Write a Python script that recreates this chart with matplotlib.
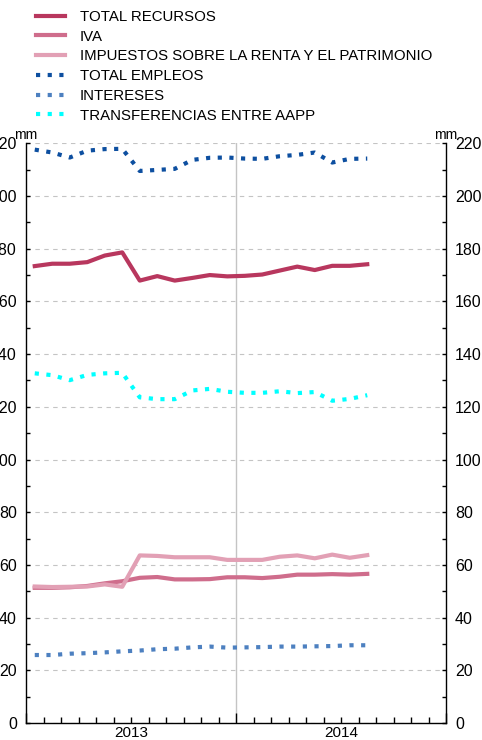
import matplotlib
matplotlib.use("Agg")
import matplotlib.pyplot as plt
import numpy as np
from matplotlib.ticker import MultipleLocator

plt.rcParams["font.family"] = ["Liberation Sans", "DejaVu Sans"]
plt.rcParams["font.size"] = 11

# monthly data, Jan 2013 .. Aug 2014 (mm = miles de millones)
years = ["2013", "2014"]
total_recursos = [173.4, 174.3, 174.3, 174.9, 177.4, 178.6, 167.9, 169.6, 167.9, 168.9,
                  170.0, 169.5, 169.7, 170.2, 171.7, 173.2, 171.9, 173.5, 173.5, 174.1]
iva = [51.3, 51.3, 51.5, 52.0, 53.0, 53.8, 55.1, 55.4, 54.5, 54.5,
       54.6, 55.3, 55.3, 55.0, 55.5, 56.3, 56.3, 56.5, 56.3, 56.6]
renta = [51.8, 51.6, 51.7, 51.8, 52.6, 51.7, 63.6, 63.4, 62.9, 62.9,
         62.9, 61.9, 61.9, 61.9, 63.1, 63.6, 62.5, 63.9, 62.7, 63.7]
total_empleos = [217.6, 216.5, 214.6, 217.2, 217.8, 217.9, 209.5, 209.9, 210.3, 213.7,
                 214.5, 214.6, 214.2, 214.1, 215.1, 215.6, 216.5, 212.7, 214.1, 214.2]
intereses = [25.8, 25.8, 26.3, 26.5, 26.8, 27.2, 27.5, 28.0, 28.2, 28.7,
             29.0, 28.6, 28.7, 28.8, 29.0, 29.0, 29.1, 29.2, 29.5, 29.5]
transferencias = [132.7, 132.0, 130.1, 132.1, 132.7, 132.9, 123.6, 122.9, 122.9, 126.2,
                  126.8, 125.7, 125.3, 125.3, 125.9, 125.2, 125.6, 122.3, 123.0, 124.4]

x = np.arange(len(total_recursos)) + 0.5

fig = plt.figure(figsize=(4.82, 7.40), dpi=100)
ax = fig.add_axes([26 / 482, 1 - 723 / 740, 420 / 482, (723 - 143.3) / 740])

dots = (0, (1, 1.8))
ax.plot(x, total_recursos, color="#B8375E", lw=3.0, label="TOTAL RECURSOS", zorder=3)
ax.plot(x, iva, color="#CF6D8C", lw=3.0, label="IVA", zorder=3)
ax.plot(x, renta, color="#E2A0B5", lw=3.0, label="IMPUESTOS SOBRE LA RENTA Y EL PATRIMONIO", zorder=3)
ax.plot(x, total_empleos, color="#0D4FA0", lw=3.0, ls=dots, label="TOTAL EMPLEOS", zorder=3)
ax.plot(x, intereses, color="#4D80C0", lw=3.0, ls=dots, label="INTERESES", zorder=3)
ax.plot(x, transferencias, color="#00FFFF", lw=3.0, ls=dots, label="TRANSFERENCIAS ENTRE AAPP", zorder=3)

ax.set_xlim(0, 24)
ax.set_ylim(0, 220)

ax.yaxis.set_major_locator(MultipleLocator(20))
ax.yaxis.set_minor_locator(MultipleLocator(10))
ax.grid(axis="y", which="major", color="#C4C4C4", lw=0.8, ls=(0, (4, 4)))
ax.axvline(12, color="#C4C4C4", lw=1.0, zorder=1)

ax.xaxis.set_major_locator(MultipleLocator(12))
ax.xaxis.set_minor_locator(MultipleLocator(1))
ax.tick_params(axis="x", which="major", direction="in", length=7, width=1, labelbottom=False)
ax.tick_params(axis="x", which="minor", direction="in", length=4, width=1)
ax.tick_params(axis="y", which="both", direction="in", length=3, width=1,
               left=True, right=True, labelleft=True, labelright=True, pad=6.5,
               labelsize=11.5)
for i, yr in enumerate(years):
    ax.text(6 + 12 * i, -0.006, yr, transform=ax.get_xaxis_transform(),
            ha="center", va="top", fontsize=11)

ax.spines["top"].set_visible(False)
for s in ("left", "right", "bottom"):
    ax.spines[s].set_linewidth(1.0)

ax.text(0, 1.003, "mm", transform=ax.transAxes, ha="center", va="bottom", fontsize=10)
ax.text(1, 1.003, "mm", transform=ax.transAxes, ha="center", va="bottom", fontsize=10)

fig.legend(loc="upper left", bbox_to_anchor=(36 / 482, 1 - 10 / 740), frameon=False,
           handlelength=1.95, handletextpad=0.98, labelspacing=0.38, borderpad=0,
           borderaxespad=0, fontsize=10.8)

fig.savefig("out.png", dpi=100)
